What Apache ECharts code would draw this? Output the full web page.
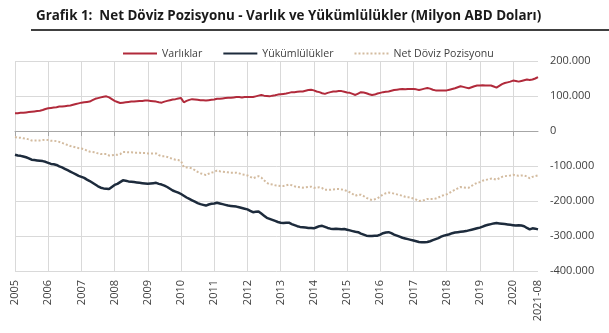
<!DOCTYPE html>
<html>
<head>
<meta charset="utf-8">
<script src="https://cdn.jsdelivr.net/npm/echarts@6/dist/echarts.min.js"></script>
<style>html,body{margin:0;padding:0;background:#fff;}#c{width:609px;height:333px;}</style>
</head>
<body>
<div id="c"></div>
<script>
// Monthly categories: 2005-11 .. 2021-08 (190 months)
const startYear = 2005, startMonth = 11, monthCount = 190;
const categories = [];
for (let i = 0; i < monthCount; i++) {
  const m = startMonth - 1 + i;
  const y = startYear + Math.floor(m / 12);
  const mm = (m % 12) + 1;
  categories.push(y + '-' + (mm < 10 ? '0' + mm : mm));
}

const seriesNames = ['Varlıklar', 'Yükümlülükler', 'Net Döviz Pozisyonu'];

// values in thousands of million USD (x1000 applied in option)
const assets = [
  51,51,52,52,53,54,55,56,57,58,60,63,
  65,66,67,68,70,70,71,72,73,75,77,79,
  81,82,83,84,88,92,94,96,98,99,96,91,
  86,83,80,81,82,83,84,84,85,86,86,87,
  87,86,85,84,82,81,84,86,88,90,91,93,
  94,82,86,89,91,90,89,88,88,87,88,89,
  90,92,92,93,94,95,95,96,97,97,96,97,
  97,97,97,99,101,103,101,100,99,101,102,104,
  105,106,107,109,111,111,112,113,113,115,117,118,
  116,113,111,108,106,109,111,113,113,114,114,112,
  110,109,106,103,107,111,110,108,105,103,104,107,
  109,111,112,113,115,117,118,119,120,119,120,120,
  120,119,117,119,121,123,121,118,116,116,116,116,
  116,118,120,122,125,128,126,124,122,125,128,130,
  130,131,130,130,130,127,124,129,134,137,139,141,
  144,143,141,143,145,147,146,147,150,154
];
const liabilities = [
  -68,-70,-71,-73,-75,-78,-82,-83,-84,-85,-86,-88,
  -91,-94,-95,-97,-101,-104,-108,-112,-116,-120,-124,-128,
  -131,-134,-139,-143,-148,-153,-158,-162,-164,-165,-166,-160,
  -154,-151,-146,-141,-142,-144,-145,-146,-147,-148,-149,-150,
  -151,-150,-149,-148,-151,-153,-156,-160,-165,-170,-173,-176,
  -180,-185,-190,-194,-198,-202,-206,-209,-211,-213,-210,-208,
  -207,-205,-207,-209,-211,-213,-214,-215,-216,-218,-220,-222,
  -224,-228,-232,-231,-230,-236,-242,-248,-251,-254,-257,-260,
  -262,-263,-262,-262,-266,-269,-272,-274,-275,-276,-277,-277,
  -278,-275,-272,-271,-274,-277,-279,-280,-279,-280,-281,-280,
  -282,-284,-286,-288,-289,-293,-296,-299,-300,-300,-299,-299,
  -296,-292,-290,-289,-292,-296,-299,-302,-305,-307,-309,-311,
  -313,-315,-317,-318,-318,-317,-315,-312,-309,-306,-302,-299,
  -297,-295,-292,-290,-289,-288,-287,-286,-284,-282,-280,-278,
  -276,-273,-270,-268,-266,-264,-263,-264,-265,-266,-267,-268,
  -269,-270,-269,-270,-272,-277,-281,-278,-279,-281
];
const netPosition = [
  -17,-19,-19,-21,-22,-24,-27,-27,-27,-27,-26,-25,
  -26,-28,-28,-29,-31,-34,-37,-40,-43,-45,-47,-49,
  -50,-52,-56,-59,-60,-61,-64,-66,-66,-66,-70,-69,
  -68,-68,-66,-60,-60,-61,-61,-62,-62,-62,-63,-63,
  -64,-64,-64,-64,-69,-72,-72,-74,-77,-80,-82,-83,
  -86,-103,-104,-105,-107,-112,-117,-121,-123,-126,-122,-119,
  -117,-113,-115,-116,-117,-118,-119,-119,-119,-121,-124,-125,
  -127,-131,-135,-132,-129,-133,-141,-148,-152,-153,-155,-156,
  -157,-157,-155,-153,-155,-158,-160,-161,-162,-161,-160,-159,
  -162,-162,-161,-163,-168,-168,-168,-167,-166,-166,-167,-168,
  -172,-175,-180,-185,-182,-182,-186,-191,-195,-197,-195,-192,
  -187,-181,-178,-176,-177,-179,-181,-183,-185,-188,-189,-191,
  -193,-196,-200,-199,-197,-194,-194,-194,-193,-190,-186,-183,
  -181,-177,-172,-168,-164,-160,-161,-162,-162,-157,-152,-148,
  -146,-142,-140,-138,-136,-137,-139,-135,-131,-129,-128,-127,
  -125,-127,-128,-127,-127,-130,-135,-131,-129,-127
];

const yMin = -400000, yMax = 200000, yStep = 100000;
const FONT = 'Open Sans';
const lastIdx = categories.length - 1;
const yearTick = (i) => i % 12 === 0;
const labelTick = (i) => i % 12 === 0 || i === lastIdx;
const fmtThousands = (v) => {
  const s = Math.abs(v).toString().replace(/\B(?=(\d{3})+(?!\d))/g, '.');
  return (v < 0 ? '-' : '') + s;
};
const scale = (arr) => arr.map(v => v * 1000);

const chart = echarts.init(document.getElementById('c'), null, {renderer: 'canvas'});
chart.setOption({
  animation: false,
  backgroundColor: '#fff',
  title: {
    text: 'Grafik 1:  Net Döviz Pozisyonu - Varlık ve Yükümlülükler (Milyon ABD Doları)',
    left: 31, top: 5,
    textStyle: {fontFamily: FONT, fontSize: 13.4, fontWeight: 'bold', color: '#1a1a1a'}
  },
  graphic: [{
    type: 'line', shape: {x1: 31, y1: 30, x2: 609, y2: 30},
    style: {stroke: '#000', lineWidth: 1.5}
  }],
  legend: {
    data: seriesNames,
    top: 43, left: 117,
    itemWidth: 34, itemHeight: 8, itemGap: 20,
    itemStyle: {opacity: 0},
    textStyle: {fontFamily: FONT, fontSize: 10.6, color: '#404040'}
  },
  grid: {left: 15, right: 71, top: 61, bottom: 62, containLabel: false},
  xAxis: [{
    type: 'category', data: categories, boundaryGap: false, position: 'bottom',
    axisLine: {show: true, onZero: true, lineStyle: {color: '#a6a6a6', width: 1}},
    axisTick: {show: true, interval: yearTick, length: 5, lineStyle: {color: '#a6a6a6'}},
    axisLabel: {show: false},
    splitLine: {show: true, interval: yearTick, lineStyle: {color: '#d9d9d9', width: 1}}
  }, {
    type: 'category', data: categories, boundaryGap: false, position: 'bottom',
    axisLine: {show: false, onZero: false},
    axisTick: {show: false},
    splitLine: {show: false},
    axisLabel: {
      interval: labelTick, rotate: 90, margin: 9,
      fontFamily: FONT, fontSize: 11, color: '#404040',
      formatter: (v, i) => (i === lastIdx ? v : v.slice(0, 4))
    }
  }],
  yAxis: {
    type: 'value', position: 'right', min: yMin, max: yMax, interval: yStep,
    axisLine: {show: false}, axisTick: {show: false},
    axisLabel: {margin: 12, fontFamily: FONT, fontSize: 11, color: '#404040', formatter: fmtThousands},
    splitLine: {lineStyle: {color: '#d9d9d9', width: 1}}
  },
  series: [{
    name: seriesNames[0], type: 'line', data: scale(assets), symbol: 'none', xAxisIndex: 0,
    lineStyle: {color: '#b12a3b', width: 2}, itemStyle: {color: '#b12a3b'}, z: 3
  }, {
    name: seriesNames[1], type: 'line', data: scale(liabilities), symbol: 'none', xAxisIndex: 0,
    lineStyle: {color: '#1d2b3c', width: 2.5}, itemStyle: {color: '#1d2b3c'}, z: 3
  }, {
    name: seriesNames[2], type: 'line', data: scale(netPosition), symbol: 'none', xAxisIndex: 0,
    lineStyle: {color: '#d3bb9f', width: 2, type: 'dotted'}, itemStyle: {color: '#d3bb9f'}, z: 2
  }]
});
</script>
</body>
</html>
